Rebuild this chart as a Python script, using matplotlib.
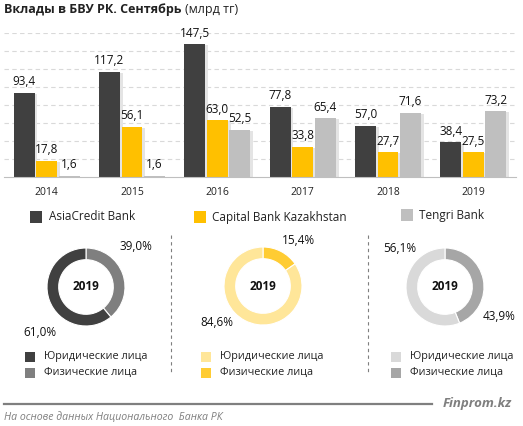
import matplotlib
matplotlib.use('Agg')
import matplotlib.pyplot as plt
import numpy as np

plt.rcParams['font.family'] = ['Open Sans', 'DejaVu Sans']

years = ['2014', '2015', '2016', '2017', '2018', '2019']
banks = ['AsiaCredit Bank', 'Capital Bank Kazakhstan', 'Tengri Bank']
asia = [93.4, 117.2, 147.5, 77.8, 57.0, 38.4]
capital = [17.8, 56.1, 63.0, 33.8, 27.7, 27.5]
tengri = [1.6, 1.6, 52.5, 65.4, 71.6, 73.2]

legal_share = [61.0, 84.6, 56.1]
phys_share = [39.0, 15.4, 43.9]
share_labels = ['Юридические лица', 'Физические лица']

bar_colors = ['#404040', '#ffc000', '#bfbfbf']
donut_colors = [('#404040', '#7f7f7f'), ('#ffe699', '#ffcc33'), ('#d9d9d9', '#a6a6a6')]

W, H = 523, 426
fig = plt.figure(figsize=(W / 100, H / 100), dpi=100)


def fx(x):
    return x / W


def fy(y):
    return 1 - y / H


def fmt(v):
    return f'{v:.1f}'.replace('.', ',')


# bar chart
ax = fig.add_axes([fx(4), fy(177), fx(512), (177 - 33) / H])
x = np.arange(len(years))
bw = 0.245
for i, (vals, c) in enumerate(zip([asia, capital, tengri], bar_colors)):
    pos = x + (i - 1) * (bw + 0.02)
    ax.bar(pos + 0.035, vals, bw, bottom=-1.2, color='#e4e4e4', zorder=1)
    ax.bar(pos, vals, bw, color=c, zorder=2)
    for p, v in zip(pos, vals):
        ax.text(p, v + 5, fmt(v), ha='center', va='bottom', fontsize=8.5, color='#111111')
ax.set_xlim(-0.5, 5.5)
ax.set_ylim(0, 160)
ax.set_yticks(np.arange(20, 161, 20))
ax.yaxis.grid(True, color='#d9d9d9', linestyle=(0, (4, 3)), linewidth=0.8)
ax.set_axisbelow(True)
ax.tick_params(axis='y', left=False, labelleft=False)
ax.tick_params(axis='x', length=0, pad=7, labelsize=7.5, labelcolor='#222222')
ax.set_xticks(x)
ax.set_xticklabels(years)
for s in ['top', 'right', 'left']:
    ax.spines[s].set_visible(False)
ax.spines['bottom'].set_color('#bfbfbf')

# overlay in pixel coordinates
ov = fig.add_axes([0, 0, 1, 1])
ov.set_xlim(0, W)
ov.set_ylim(H, 0)
ov.axis('off')

# title
t1 = fig.text(fx(4), fy(10), 'Вклады в БВУ РК. Сентябрь', fontsize=9, fontweight='bold',
              color='#222222', va='center')
fig.canvas.draw()
bb = t1.get_window_extent()
fig.text(bb.x1 / W + fx(3), fy(10), '(млрд тг)', fontsize=9, color='#222222', va='center')

# bank legend
leg_pos = [(36, 217, 49), (200, 217, 212), (407, 215, 419)]
for (mx, my, tx), name, c in zip(leg_pos, banks, bar_colors):
    ov.scatter([mx], [my], marker='s', s=75, color=c, linewidths=0)
    ov.text(tx, my, name, fontsize=8.5, color='#222222', va='center')

# donuts
centers = [(86, 287), (263, 286), (445, 287)]
r = 39
# (physical label, legal label) positions
pct_pos = [((136, 246), (40, 332)), ((298, 241), (217, 322)), ((499, 317), (400, 249))]
leg_x = [(30, 44), (206, 220), (396, 410)]
for k, (cx, cy) in enumerate(centers):
    dax = fig.add_axes([fx(cx - 50), fy(cy + 50), fx(100), 100 / H])
    legal_c, phys_c = donut_colors[k]
    dax.pie([phys_share[k], legal_share[k]], colors=[phys_c, legal_c], startangle=90,
            counterclock=False, radius=1, wedgeprops=dict(width=0.3, edgecolor='white', linewidth=0.8))
    dax.set_xlim(-50 / r, 50 / r)
    dax.set_ylim(-50 / r, 50 / r)
    dax.set_aspect('equal')
    dax.axis('off')
    dax.text(0, 0, '2019', ha='center', va='center', fontsize=8.5, fontweight='bold', color='#111111')
    (px1, py1), (px2, py2) = pct_pos[k]
    ov.text(px1, py1, fmt(phys_share[k]) + '%', ha='center', va='center', fontsize=8.5, color='#111111')
    ov.text(px2, py2, fmt(legal_share[k]) + '%', ha='center', va='center', fontsize=8.5, color='#111111')
    mx, tx = leg_x[k]
    for j, (lab, c) in enumerate(zip(share_labels, [legal_c, phys_c])):
        yy = 357 + j * 15.5
        ov.scatter([mx], [yy], marker='s', s=45, color=c, linewidths=0)
        ov.text(tx, yy, lab, fontsize=7.8, color='#222222', va='center')

# separators
for sx in [171, 368]:
    ov.plot([sx, sx], [235, 373], color='#7f7f7f', linestyle=(0, (3, 3)), linewidth=0.8)

# footer
ov.plot([4, 432], [404, 404], color='#7f7f7f', linewidth=1.6)
ov.text(512, 403, 'Finprom.kz', ha='right', va='center', fontsize=9.5, fontweight='bold',
        style='italic', color='#7f7f7f')
ov.text(4, 418, 'На основе данных Национального  Банка РК', va='center', fontsize=7.6,
        style='italic', color='#7f7f7f')

fig.savefig('out.png', dpi=100)
